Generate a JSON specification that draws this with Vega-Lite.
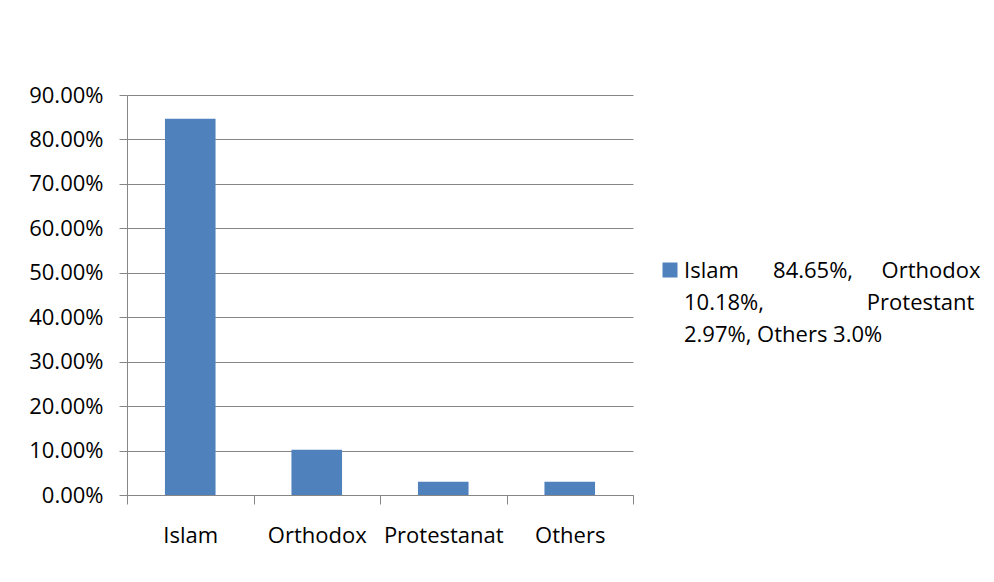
{
  "$schema": "https://vega.github.io/schema/vega-lite/v6.json",
  "width": 506,
  "height": 400,
  "autosize": "none",
  "padding": {"left": 127, "top": 95, "right": 361, "bottom": 87},
  "background": "white",
  "data": {
    "values": [
      {"religion": "Islam", "share": 0.8465, "series": "Islam 84.65%, Orthodox 10.18%, Protestant 2.97%, Others 3.0%"},
      {"religion": "Orthodox", "share": 0.1018, "series": "Islam 84.65%, Orthodox 10.18%, Protestant 2.97%, Others 3.0%"},
      {"religion": "Protestanat", "share": 0.0297, "series": "Islam 84.65%, Orthodox 10.18%, Protestant 2.97%, Others 3.0%"},
      {"religion": "Others", "share": 0.03, "series": "Islam 84.65%, Orthodox 10.18%, Protestant 2.97%, Others 3.0%"}
    ]
  },
  "mark": {"type": "bar", "width": {"band": 0.4}},
  "encoding": {
    "x": {
      "field": "religion",
      "type": "nominal",
      "sort": null,
      "scale": {"paddingInner": 0, "paddingOuter": 0},
      "axis": {
        "title": null,
        "labelAngle": 0,
        "tickBand": "extent",
        "tickSize": 9,
        "labelPadding": 21,
        "domainColor": "#868686",
        "tickColor": "#868686",
        "labelFont": "Open Sans",
        "labelFontSize": 22,
        "labelColor": "#000000",
        "grid": false
      }
    },
    "y": {
      "field": "share",
      "type": "quantitative",
      "scale": {"domain": [0, 0.9]},
      "axis": {
        "title": null,
        "format": ".2%",
        "values": [0, 0.1, 0.2, 0.3, 0.4, 0.5, 0.6, 0.7, 0.8, 0.9],
        "tickSize": 8,
        "labelPadding": 16,
        "grid": true,
        "gridColor": "#868686",
        "domainColor": "#868686",
        "tickColor": "#868686",
        "labelFont": "Open Sans",
        "labelFontSize": 22,
        "labelColor": "#000000"
      }
    },
    "color": {
      "field": "series",
      "type": "nominal",
      "scale": {"range": ["#4F81BD"]},
      "legend": {
        "orient": "none",
        "legendX": 532,
        "legendY": 155,
        "title": null,
        "symbolType": "M-1,0.2H1V2.2H-1Z",
        "symbolSize": 225,
        "symbolStrokeWidth": 0,
        "labelFont": "Open Sans",
        "labelFontSize": 22,
        "labelColor": "#000000",
        "labelBaseline": "top",
        "labelOffset": 3,
        "labelLimit": 600,
        "labelExpr": "['Islam\u00a0\u00a0\u00a0\u00a0\u00a0\u00a084.65%,\u00a0\u00a0\u00a0\u00a0\u00a0Orthodox', '10.18%,\u00a0\u00a0\u00a0\u00a0\u00a0\u00a0\u00a0\u00a0\u00a0\u00a0\u00a0\u00a0\u00a0\u00a0\u00a0\u00a0\u00a0\u00a0Protestant', '2.97%, Others 3.0%']"
      }
    }
  },
  "config": {
    "view": {"stroke": null},
    "style": {"guide-label": {"lineHeight": 32}}
  }
}
